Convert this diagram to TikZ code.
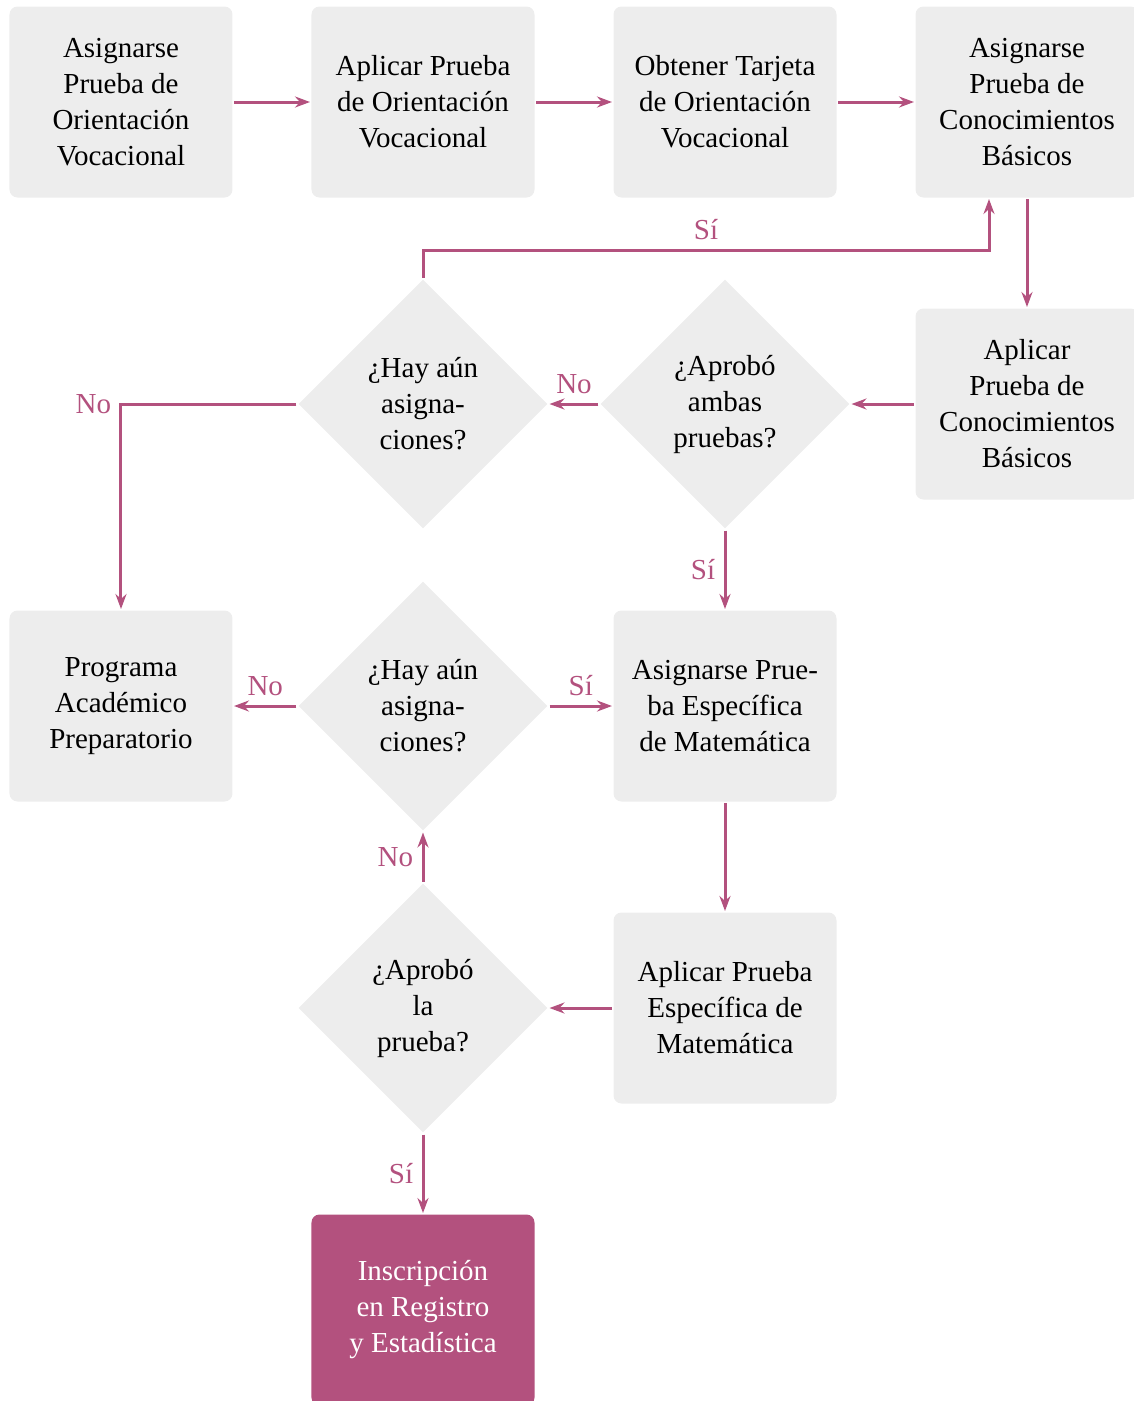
\documentclass[tikz,border=0pt]{standalone}
\usepackage{fontspec}
\setmainfont{Liberation Serif}
\usetikzlibrary{shapes.geometric,arrows.meta}
\definecolor{gris}{HTML}{EDEDED}
\definecolor{rosa}{HTML}{B3517E}
\begin{document}
\begin{tikzpicture}[x=120.8pt, y=-120.8pt, line width=1.2pt,
    texto/.style={font=\fontsize{11.6}{14.4}\selectfont},
    caja/.style={texto, rectangle, rounded corners=3.2pt, fill=gris, minimum width=89.2pt, minimum height=76.4pt, inner sep=0pt, align=center},
    pregunta/.style={texto, diamond, aspect=1, fill=gris, minimum size=100pt, inner sep=0pt, align=center},
    flecha/.style={draw=rosa, -{Stealth[length=6pt,width=4.4pt,inset=2pt]}},
    etiq/.style={texto, text=rosa}]
    \useasboundingbox (-48.4pt,40.8pt) rectangle (404.8pt,-519.6pt);
    % primera fila
    \node[caja] (asigPOV) at (0,0) {Asignarse\\Prueba de\\Orientación\\Vocacional};
    \node[caja] (aplPOV) at (1,0) {Aplicar Prueba\\de Orientación\\Vocacional};
    \node[caja] (tarjeta) at (2,0) {Obtener Tarjeta\\de Orientación\\Vocacional};
    \node[caja] (asigPCB) at (3,0) {Asignarse\\Prueba de\\Conocimientos\\Básicos};
    % segunda fila
    \node[caja] (aplPCB) at (3,1) {Aplicar\\Prueba de\\Conocimientos\\Básicos};
    \node[pregunta] (aprobAmbas) at (2,1) {¿Aprobó\\ambas\\pruebas?};
    \node[pregunta] (hayAunA) at (1,1) {¿Hay aún\\asigna-\\ciones?};
    % tercera fila
    \node[caja] (programa) at (0,2) {Programa\\Académico\\Preparatorio};
    \node[pregunta] (hayAunB) at (1,2) {¿Hay aún\\asigna-\\ciones?};
    \node[caja] (asigPEM) at (2,2) {Asignarse Prue-\\ba Específica\\de Matemática};
    % cuarta y quinta fila
    \node[pregunta] (aprobPEM) at (1,3) {¿Aprobó\\la\\prueba?};
    \node[caja] (aplPEM) at (2,3) {Aplicar Prueba\\Específica de\\Matemática};
    \node[caja, fill=rosa, text=white] (inscrip) at (1,4) {Inscripción\\en Registro\\y Estadística};
    % flechas
    \draw[flecha] (asigPOV) -- (aplPOV);
    \draw[flecha] (aplPOV) -- (tarjeta);
    \draw[flecha] (tarjeta) -- (asigPCB);
    \draw[flecha] (asigPCB) -- (aplPCB);
    \draw[flecha] (aplPCB) -- (aprobAmbas);
    \draw[flecha] (aprobAmbas) -- node[midway, above, etiq] {No} (hayAunA);
    \draw[flecha] (hayAunA.north) -- ++(0,11pt) -| node[pos=0.25, above, etiq] {Sí} ([xshift=-15.2pt]asigPCB.south);
    \draw[flecha] (hayAunA.west) -| node[pos=0.5, left, etiq] {No} (programa.north);
    \draw[flecha] (aprobAmbas) -- node[midway, left, etiq] {Sí} (asigPEM);
    \draw[flecha] (hayAunB) -- node[midway, above, etiq] {Sí} (asigPEM);
    \draw[flecha] (hayAunB) -- node[midway, above, etiq] {No} (programa);
    \draw[flecha] (asigPEM) -- (aplPEM);
    \draw[flecha] (aplPEM) -- (aprobPEM);
    \draw[flecha] (aprobPEM) -- node[midway, left, etiq] {No} (hayAunB);
    \draw[flecha] (aprobPEM) -- node[midway, left, etiq] {Sí} (inscrip);
\end{tikzpicture}
\end{document}
